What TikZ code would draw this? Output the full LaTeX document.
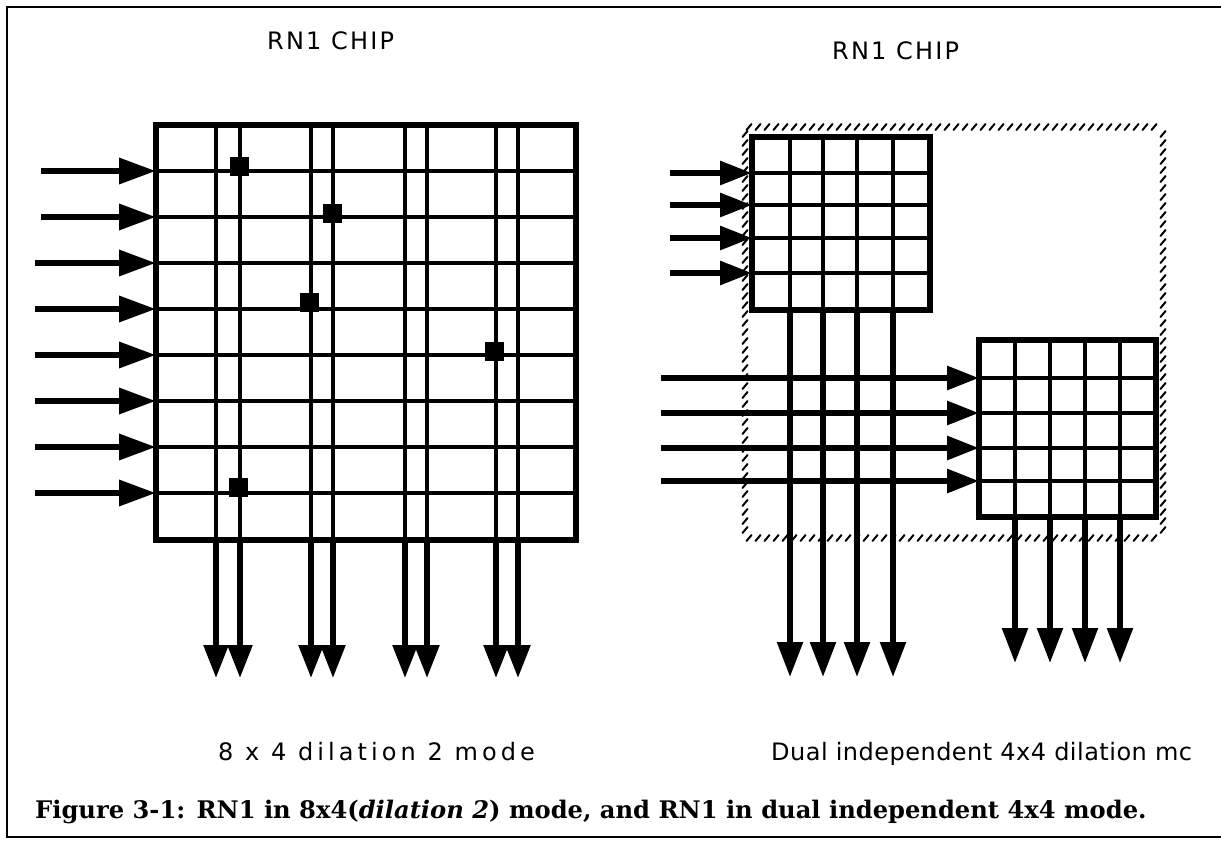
\documentclass[tikz,border=0pt]{standalone}
\usepackage{fontspec}
\setmainfont{DejaVu Serif}
\newfontfamily\chipfont[LetterSpace=9]{DejaVu Sans}
\newfontfamily\modefontA[LetterSpace=17]{DejaVu Sans}
\newfontfamily\modefontB[LetterSpace=2]{DejaVu Sans}
\usetikzlibrary{arrows.meta}
\begin{document}
\begin{tikzpicture}[x=1bp,y=-1bp,
  frameline/.style={line width=2.2bp},
  gridouter/.style={line width=6bp, line join=miter},
  gridinner/.style={line width=4.5bp},
  inarrowL/.style={line width=6.5bp, -{Triangle[length=37bp,width=25bp]}},
  inarrowR/.style={line width=6bp, -{Triangle[length=32bp,width=23bp]}},
  outarrowL/.style={line width=5.5bp, -{Triangle[length=33bp,width=24bp]}},
  outarrowR/.style={line width=5.5bp, -{Triangle[length=35bp,width=25bp]}},
  hatch/.style={line width=2bp, line cap=round},
  xpoint/.style={fill=black, minimum size=19bp, inner sep=0pt, draw=none},
  chiplabel/.style={anchor=base west, inner sep=0pt, font=\chipfont\fontsize{24bp}{29bp}\selectfont},
  modelabel/.style={anchor=base west, inner sep=0pt},
  caption/.style={anchor=base west, inner sep=0pt, font=\bfseries\fontsize{24.2bp}{29bp}\selectfont}
]
\useasboundingbox (0,0) rectangle (1221,842);
% outer frame
\coordinate (fTL) at (7,7);
\coordinate (fTR) at (1221,7);
\coordinate (fBL) at (7,837);
\coordinate (fBR) at (1221,837);
\draw[frameline] (fTR) -- (fTL) -- (fBL) -- (fBR);

% ---------- left chip ----------
\node[chiplabel] (chipL) at (267,49) {RN1 CHIP};
\coordinate (LG-nw) at (156,125);
\coordinate (LG-se) at (576,540);
\foreach \i/\y/\xs in {1/171/41,2/217/41,3/263/35,4/309/35,5/355/35,6/401/35,7/447/35,8/493/35}{
  \coordinate (Lrow\i w) at (156,\y);
  \coordinate (Lrow\i e) at (576,\y);
  \coordinate (Lin\i) at (\xs,\y);
  \draw[gridinner] (Lrow\i w) -- (Lrow\i e);
  \draw[inarrowL] (Lin\i) -- (Lrow\i w);
}
\foreach \j/\x in {1/216,2/240,3/311,4/333,5/405,6/427,7/496,8/518}{
  \coordinate (Lcol\j n) at (\x,125);
  \coordinate (Lcol\j s) at (\x,540);
  \coordinate (Lout\j) at (\x,678);
  \draw[gridinner] (Lcol\j n) -- (Lcol\j s);
  \draw[outarrowL] (Lcol\j s) -- (Lout\j);
}
\draw[gridouter] (LG-nw) rectangle (LG-se);
\node[xpoint] (sw1) at (239,166) {};
\node[xpoint] (sw2) at (332,213) {};
\node[xpoint] (sw3) at (309,302) {};
\node[xpoint] (sw4) at (494,351) {};
\node[xpoint] (sw5) at (238,487) {};
\node[modelabel, font=\modefontA\fontsize{24bp}{29bp}\selectfont] (modeL) at (218,760) {8 x 4 dilation 2 mode};

% ---------- right chip ----------
\node[chiplabel] (chipR) at (832,59) {RN1 CHIP};
\foreach \x in {749,758,...,1162}{
  \draw[hatch] (\x-2.5,130) -- (\x+2.5,124);
  \draw[hatch] (\x-2.5,541) -- (\x+2.5,535);
}
\foreach \y in {134,143,...,536}{
  \draw[hatch] (742.5,\y+3) -- (747.5,\y-3);
  \draw[hatch] (1160.5,\y+3) -- (1165.5,\y-3);
}
\coordinate (AG-nw) at (752,137);
\coordinate (AG-se) at (930,310);
\foreach \i/\y in {1/173,2/205,3/238,4/273}{
  \coordinate (Arow\i w) at (752,\y);
  \coordinate (Arow\i e) at (930,\y);
  \coordinate (Ain\i) at (670,\y);
  \draw[gridinner] (Arow\i w) -- (Arow\i e);
}
\foreach \j/\x in {1/790,2/823,3/857,4/893}{
  \coordinate (Acol\j n) at (\x,137);
  \coordinate (Acol\j s) at (\x,310);
  \coordinate (Aout\j) at (\x,677);
  \draw[gridinner] (Acol\j n) -- (Acol\j s);
  \draw[outarrowR] (Acol\j s) -- (Aout\j);
}
\draw[gridouter] (AG-nw) rectangle (AG-se);
\foreach \i in {1,...,4}{ \draw[inarrowR] (Ain\i) -- (Arow\i w); }
\coordinate (BG-nw) at (979,340);
\coordinate (BG-se) at (1156,517);
\foreach \i/\y in {1/378,2/413,3/448,4/481}{
  \coordinate (Brow\i w) at (979,\y);
  \coordinate (Brow\i e) at (1156,\y);
  \coordinate (Bin\i) at (661,\y);
  \draw[gridinner] (Brow\i w) -- (Brow\i e);
  \draw[inarrowR] (Bin\i) -- (Brow\i w);
}
\foreach \j/\x in {1/1015,2/1050,3/1085,4/1120}{
  \coordinate (Bcol\j n) at (\x,340);
  \coordinate (Bcol\j s) at (\x,517);
  \coordinate (Bout\j) at (\x,663);
  \draw[gridinner] (Bcol\j n) -- (Bcol\j s);
  \draw[outarrowR] (Bcol\j s) -- (Bout\j);
}
\draw[gridouter] (BG-nw) rectangle (BG-se);
\node[modelabel, font=\modefontB\fontsize{24bp}{29bp}\selectfont] (modeR) at (771,760) {Dual independent 4x4 dilation mc};

\node[caption] (cap) at (35,818) {Figure 3-1: RN1 in 8x4(\textit{dilation 2}) mode, and RN1 in dual independent 4x4 mode.};
\end{tikzpicture}
\end{document}
